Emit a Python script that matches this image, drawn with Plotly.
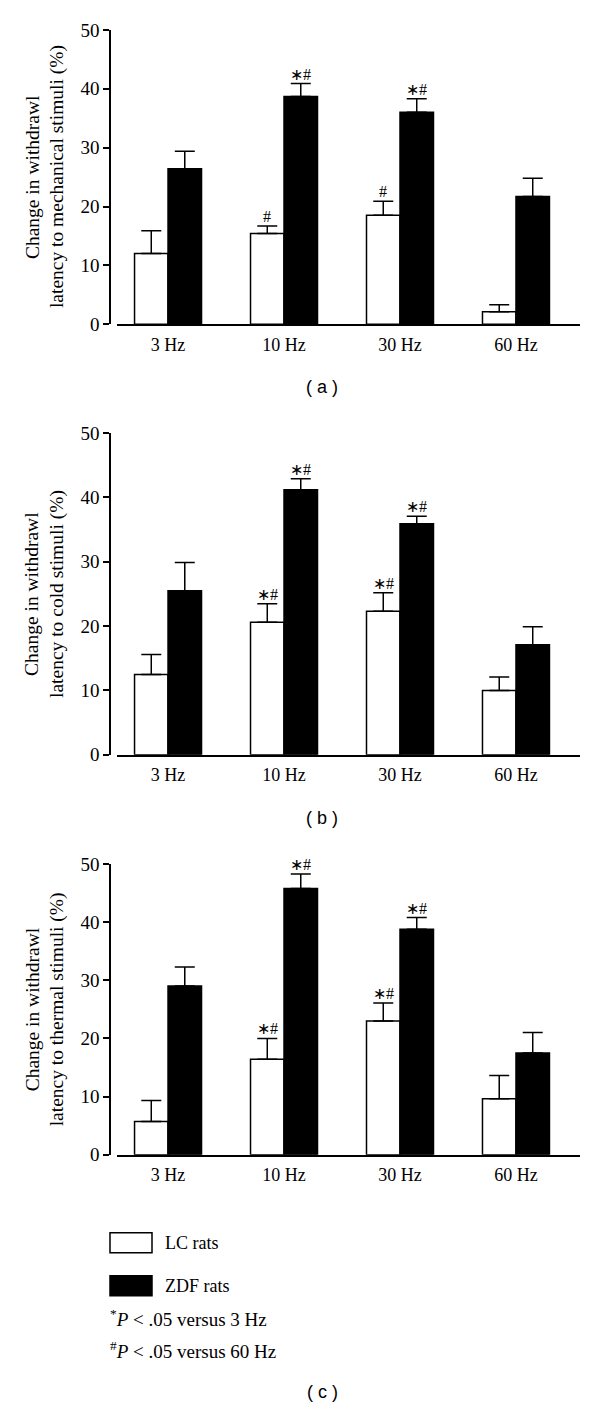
import plotly.graph_objects as go

# ---------------- data ----------------
categories = ["3 Hz", "10 Hz", "30 Hz", "60 Hz"]

mech_lc_mean = [12.0, 15.4, 18.5, 2.1]
mech_lc_sem = [3.9, 1.3, 2.4, 1.2]
mech_zdf_mean = [26.4, 38.7, 36.0, 21.7]
mech_zdf_sem = [3.0, 2.2, 2.3, 3.1]
mech_lc_sig = ["", "#", "#", ""]
mech_zdf_sig = ["", "∗#", "∗#", ""]

cold_lc_mean = [12.5, 20.6, 22.3, 10.0]
cold_lc_sem = [3.1, 2.9, 2.9, 2.1]
cold_zdf_mean = [25.5, 41.2, 35.9, 17.1]
cold_zdf_sem = [4.4, 1.7, 1.2, 2.8]
cold_lc_sig = ["", "∗#", "∗#", ""]
cold_zdf_sig = ["", "∗#", "∗#", ""]

therm_lc_mean = [5.7, 16.4, 23.0, 9.6]
therm_lc_sem = [3.6, 3.6, 3.1, 4.0]
therm_zdf_mean = [29.0, 45.8, 38.8, 17.5]
therm_zdf_sem = [3.3, 2.5, 2.0, 3.5]
therm_lc_sig = ["", "∗#", "∗#", ""]
therm_zdf_sig = ["", "∗#", "∗#", ""]

y_titles = [
    ("Change in withdrawl", "latency to mechanical stimuli (%)"),
    ("Change in withdrawl", "latency to cold stimuli (%)"),
    ("Change in withdrawl", "latency to thermal stimuli (%)"),
]
panel_labels = ["( a )", "( b )", "( c )"]
y_ticks = [0, 10, 20, 30, 40, 50]

# ---------------- layout helpers ----------------
W, H = 600, 1411
SERIF = "Liberation Serif, Times New Roman, serif"
SANS = "Liberation Sans, Arial, sans-serif"

# vertical calibration (observed offset/scale of the captured page)
Y_OFF, Y_SCALE = 10.0, 0.9854


def px_x(p):
    return p / W


def px_y(p):
    f = (p - Y_OFF) / Y_SCALE
    return 1 - f / H


# pixel positions of each panel: (y at 0, y at 50)
panels_px = [(324.3, 30.0), (755.0, 433.3), (1155.0, 864.3)]
label_y_px = [387, 818, 1392]

panels = [
    (mech_lc_mean, mech_lc_sem, mech_zdf_mean, mech_zdf_sem, mech_lc_sig, mech_zdf_sig),
    (cold_lc_mean, cold_lc_sem, cold_zdf_mean, cold_zdf_sem, cold_lc_sig, cold_zdf_sig),
    (therm_lc_mean, therm_lc_sem, therm_zdf_mean, therm_zdf_sem, therm_lc_sig, therm_zdf_sig),
]

fig = go.Figure()
annotations = []
shapes = []
LW = 1.5

for i, (lc_m, lc_s, zdf_m, zdf_s, lc_sig, zdf_sig) in enumerate(panels):
    n = "" if i == 0 else str(i + 1)
    xa, ya = "x" + n, "y" + n
    err_style = dict(type="data", symmetric=False, color="black", thickness=LW, width=10)
    fig.add_trace(go.Bar(
        x=categories, y=lc_m, xaxis=xa, yaxis=ya, name="LC rats",
        marker=dict(color="white", line=dict(color="black", width=LW)),
        error_y=dict(array=lc_s, arrayminus=[0] * len(lc_s), **err_style),
        showlegend=False,
    ))
    fig.add_trace(go.Bar(
        x=categories, y=zdf_m, xaxis=xa, yaxis=ya, name="ZDF rats",
        marker=dict(color="black", line=dict(color="black", width=LW)),
        error_y=dict(array=zdf_s, arrayminus=[0] * len(zdf_s), **err_style),
        showlegend=False,
    ))
    y0, y50 = panels_px[i]
    dom = [px_y(y0), px_y(y50)]
    fig.layout["xaxis" + n] = dict(
        domain=[px_x(117), px_x(580)], anchor=ya, type="category",
        range=[-0.44, 3.552], showline=True, linecolor="black", linewidth=LW,
        ticks="", showgrid=False, zeroline=False, ticklabelstandoff=3,
        tickfont=dict(family=SERIF, size=18, color="black"),
    )
    fig.layout["yaxis" + n] = dict(
        domain=dom, anchor="free", position=px_x(110), range=[0, 50],
        tickvals=y_ticks, ticks="outside", ticklen=6, tickwidth=LW,
        tickcolor="black", showline=True, linecolor="black", linewidth=LW,
        showgrid=False, zeroline=False,
        tickfont=dict(family=SERIF, size=19, color="black"),
    )
    # significance markers
    for j, c in enumerate(categories):
        for mean, sem, sig, shift in ((lc_m, lc_s, lc_sig, -16.75), (zdf_m, zdf_s, zdf_sig, 16.75)):
            if sig[j]:
                annotations.append(dict(
                    x=c, y=mean[j] + sem[j], xref=xa, yref=ya, text=sig[j],
                    showarrow=False, xshift=shift, yshift=-1, yanchor="bottom",
                    font=dict(family=SERIF, size=16, color="black"),
                ))
    # y titles (two lines)
    yc = px_y((y0 + y50) / 2)
    for k, xc in enumerate((32, 57)):
        annotations.append(dict(
            x=px_x(xc), y=yc, xref="paper", yref="paper", text=y_titles[i][k],
            textangle=-90, showarrow=False, xanchor="center", yanchor="middle",
            font=dict(family=SERIF, size=19.5, color="black"),
        ))
    # panel label
    annotations.append(dict(
        x=px_x(322), y=px_y(label_y_px[i]), xref="paper", yref="paper",
        text=panel_labels[i], showarrow=False, xanchor="center", yanchor="middle",
        font=dict(family=SANS, size=18, color="black"),
    ))

# legend
legend_items = [("LC rats", "white", 1243), ("ZDF rats", "black", 1286)]
for label, color, yc in legend_items:
    shapes.append(dict(
        type="rect", xref="paper", yref="paper",
        x0=px_x(110), x1=px_x(152), y0=px_y(yc + 10), y1=px_y(yc - 10),
        fillcolor=color, line=dict(color="black", width=LW),
    ))
    annotations.append(dict(
        x=px_x(163), y=px_y(yc), xref="paper", yref="paper", text=label,
        showarrow=False, xanchor="left", yanchor="middle",
        font=dict(family=SERIF, size=18, color="black"),
    ))
notes = [
    ("<sup>*</sup><i>P</i> &lt; .05 versus 3 Hz", 1318),
    ("<sup>#</sup><i>P</i> &lt; .05 versus 60 Hz", 1350),
]
for text, yc in notes:
    annotations.append(dict(
        x=px_x(108), y=px_y(yc), xref="paper", yref="paper", text=text,
        showarrow=False, xanchor="left", yanchor="middle",
        font=dict(family=SERIF, size=19, color="black"),
    ))

fig.update_layout(
    width=W, height=H, margin=dict(l=0, r=0, t=0, b=0),
    paper_bgcolor="white", plot_bgcolor="white",
    barmode="group", bargap=0.4224, bargroupgap=0,
    annotations=annotations, shapes=shapes, showlegend=False,
)

fig.write_html(
    "out.html",
    config={"displayModeBar": False},
    post_script="document.body.style.margin='0';document.body.style.padding='0';document.body.style.overflow='hidden';",
)
